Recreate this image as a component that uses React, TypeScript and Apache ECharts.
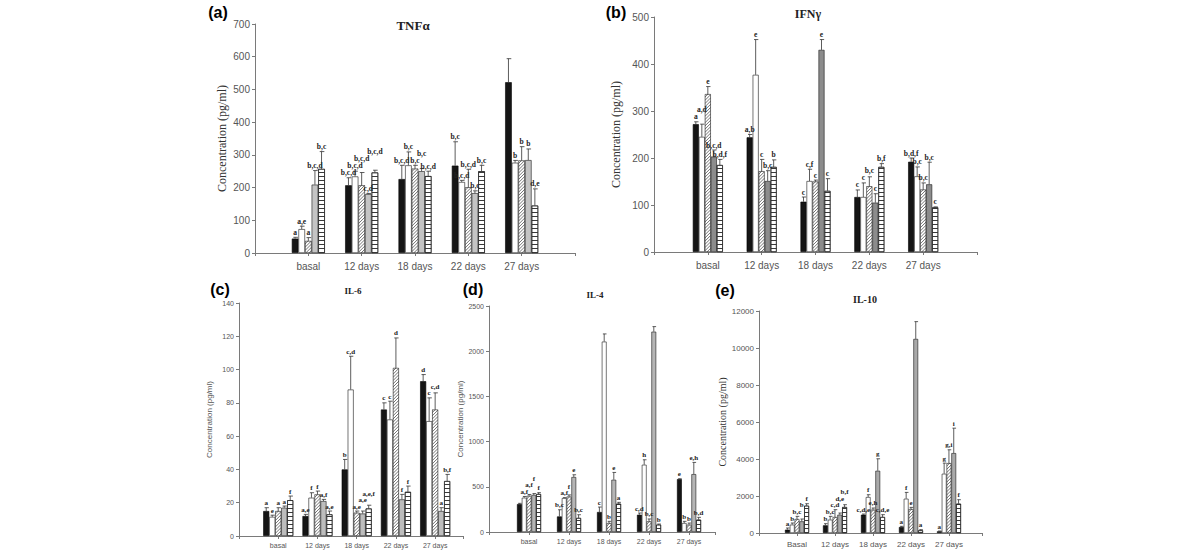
import React, { useEffect, useRef } from 'react';
import * as echarts from 'echarts';

const categories = ['basal', '12 days', '18 days', '22 days', '27 days'];
const categoriesIL10 = ['Basal', '12 days', '18 days', '22 days', '27 days'];

// series order: black, white, diagonal hatch, gray, horizontal hatch
const tnfMean = [
  [44, 207, 226, 267, 522],
  [73, 234, 268, 217, 276],
  [37, 207, 258, 201, 283],
  [209, 180, 250, 183, 284],
  [257, 246, 235, 250, 145],
];
const tnfSd = [
  [4, 23, 42, 73, 72],
  [9, 16, 41, 5, 7],
  [10, 39, 10, 55, 42],
  [43, 2, 8, 7, 34],
  [53, 7, 15, 18, 51],
];
const tnfLabels = [
  ['a', 'b,c,d', 'b,c,d', 'b,c', ''],
  ['a,e', 'b,c,d', 'b,c', 'b,c,d', 'b'],
  ['a', 'b,c,d', 'b,c', 'b,c,d', 'b'],
  ['b,c,d', 'c,d', 'b,c', 'b,c', 'b'],
  ['b,c', 'b,c,d', 'b,c,d', 'b,c', 'd,e'],
];

const ifnMean = [
  [272, 244, 107, 117, 192],
  [245, 377, 151, 117, 161],
  [336, 172, 150, 140, 133],
  [203, 151, 430, 105, 144],
  [185, 181, 130, 181, 95],
];
const ifnSd = [
  [5, 6, 10, 15, 8],
  [27, 75, 25, 30, 20],
  [16, 25, 3, 20, 14],
  [14, 22, 22, 19, 47],
  [12, 15, 26, 7, 1],
];
const ifnLabels = [
  ['a', 'a,b', 'c', 'c', 'b,d,f'],
  ['a,d', 'e', 'c,f', 'c', 'b,c'],
  ['e', 'c', 'c', 'b,c', 'b,c'],
  ['b,c,d', 'b,c', 'e', 'c', 'b,c'],
  ['b,d,f', 'b', 'c', 'b,f', 'c'],
];

const il6Mean = [
  [15, 12, 40, 76, 93],
  [11.5, 23, 88, 70, 69],
  [15, 25, 14, 101, 76],
  [17, 21, 13.5, 22, 15],
  [21.5, 13, 16.5, 26.5, 33],
];
const il6Sd = [
  [2, 1, 6, 4, 4],
  [1, 3, 20, 11, 14],
  [2, 2, 1, 18, 10],
  [1, 1, 1.5, 3, 2],
  [2.5, 2, 2, 3.5, 4],
];
const il6Labels = [
  ['a', 'a,e', 'b', 'c', 'd'],
  ['e', 'f', 'c,d', 'c', 'c'],
  ['a', 'f', 'a,e', 'd', 'c,d'],
  ['a', 'a,f', 'a,e', 'f', 'a'],
  ['f', 'a,e', 'a,e,f', 'f', 'b,f'],
];

const il4Mean = [
  [309, 172, 221, 191, 585],
  [379, 375, 2106, 744, 99],
  [400, 392, 99, 118, 81],
  [410, 608, 578, 2216, 640],
  [420, 155, 313, 81, 136],
];
const il4Sd = [
  [8, 74, 55, 19, 4],
  [14, 5, 85, 55, 19],
  [15, 18, 19, 26, 18],
  [15, 25, 81, 56, 130],
  [15, 36, 15, 7, 26],
];
const il4Labels = [
  ['', 'b,c', 'c', 'c,d', 'e'],
  ['a,f', 'a,f', '', 'h', 'b'],
  ['a,f', 'f', 'b', 'b,c', 'b'],
  ['f', 'e', 'e', '', 'e,h'],
  ['f', 'b,c', 'a', 'b', 'b,d'],
];

const il10Mean = [
  [180, 414, 990, 324, 90],
  [450, 720, 1943, 1853, 3203],
  [756, 864, 1260, 1295, 3778],
  [630, 990, 3365, 10490, 4318],
  [1475, 1403, 864, 144, 1583],
];
const il10Sd = [
  [90, 90, 35, 36, 18],
  [90, 180, 126, 342, 575],
  [144, 396, 90, 90, 720],
  [126, 90, 647, 935, 1349],
  [108, 127, 126, 36, 217],
];
const il10Labels = [
  ['a', 'b', 'c,d,e', 'a', 'a'],
  ['b', 'b,c', 'f', 'f', 'g'],
  ['b,c', 'c,d', 'e,h', 'e', 'g,i'],
  ['b', 'd,e', 'g', '', 'i'],
  ['f', 'b,f', 'c,d,e', 'a', 'f'],
];

const yName = 'Concentration (pg/ml)';

type Panel = {
  letter: string;
  title: string;
  cats: string[];
  mean: number[][];
  sd: number[][];
  labels: string[][];
  yMax: number;
  yInterval: number;
  xMax: number;
  grid: { left: number; top: number; width: number; height: number };
  gray: string;
  barW: number;
  tickFont: number;
  nameFamily: string;
  nameSize: number;
  nameGap: number;
  nameColor: string;
  labelFont: number;
  titleFont: string;
  titlePos: [number, number];
  letterPos: [number, number];
  catFont: number;
  catMargin: number;
};

const panels: Panel[] = [
  {
    letter: '(a)', title: 'TNFα', cats: categories, mean: tnfMean, sd: tnfSd, labels: tnfLabels,
    yMax: 700, yInterval: 100, xMax: 6,
    grid: { left: 255, top: 24, width: 320, height: 229 }, gray: '#c4c4c4', barW: 6.6,
    tickFont: 10, nameFamily: 'Liberation Serif', nameSize: 12, nameGap: 27, nameColor: '#333',
    labelFont: 7.5, titleFont: 'bold 13px "Liberation Serif"', titlePos: [413, 25], letterPos: [218, 12],
    catFont: 10, catMargin: 8,
  },
  {
    letter: '(b)', title: 'IFNγ', cats: categories, mean: ifnMean, sd: ifnSd, labels: ifnLabels,
    yMax: 500, yInterval: 100, xMax: 6,
    grid: { left: 654, top: 17, width: 323, height: 235 }, gray: '#8c8c8c', barW: 6,
    tickFont: 10, nameFamily: 'Liberation Serif', nameSize: 12, nameGap: 32, nameColor: '#333',
    labelFont: 7.5, titleFont: 'bold 12px "Liberation Serif"', titlePos: [808, 14], letterPos: [616, 12],
    catFont: 10, catMargin: 8,
  },
  {
    letter: '(c)', title: 'IL-6', cats: categories, mean: il6Mean, sd: il6Sd, labels: il6Labels,
    yMax: 140, yInterval: 20, xMax: 5.71,
    grid: { left: 239, top: 303, width: 224, height: 233 }, gray: '#bdbdbd', barW: 6,
    tickFont: 7, nameFamily: 'Liberation Sans', nameSize: 8, nameGap: 26, nameColor: '#555',
    labelFont: 7, titleFont: 'bold 9px "Liberation Serif"', titlePos: [353, 291], letterPos: [220, 289],
    catFont: 7, catMargin: 6,
  },
  {
    letter: '(d)', title: 'IL-4', cats: categories, mean: il4Mean, sd: il4Sd, labels: il4Labels,
    yMax: 2500, yInterval: 500, xMax: 5.65,
    grid: { left: 489, top: 306, width: 226, height: 226 }, gray: '#b5b5b5', barW: 4.8,
    tickFont: 7, nameFamily: 'Liberation Sans', nameSize: 8, nameGap: 17, nameColor: '#555',
    labelFont: 7, titleFont: 'bold 9px "Liberation Serif"', titlePos: [595, 295], letterPos: [473, 289],
    catFont: 7, catMargin: 6,
  },
  {
    letter: '(e)', title: 'IL-10', cats: categoriesIL10, mean: il10Mean, sd: il10Sd, labels: il10Labels,
    yMax: 12000, yInterval: 2000, xMax: 5.87,
    grid: { left: 759, top: 311, width: 223, height: 222 }, gray: '#a9a9a9', barW: 4.8,
    tickFont: 8, nameFamily: 'Liberation Serif', nameSize: 10, nameGap: 29, nameColor: '#333',
    labelFont: 7, titleFont: 'bold 10px "Liberation Serif"', titlePos: [865, 299], letterPos: [725, 290],
    catFont: 8, catMargin: 7,
  },
];

function seriesStyle(s: number, gray: string): any {
  const border = { borderColor: '#1a1a1a', borderWidth: 0.6 };
  if (s === 0) return { color: '#151515', borderColor: '#000', borderWidth: 0.6 };
  if (s === 1 || s === 2) return { color: '#ffffff', ...border };
  if (s === 3) return { color: gray, ...border };
  return {
    color: '#ffffff', ...border,
    decal: { symbol: 'rect', symbolSize: 1, dashArrayX: [1, 0], dashArrayY: [1, 2.6], rotation: 0, color: '#3a3a3a' },
  };
}

// Stack letter labels that would collide within a group (as in the original figure).
function layoutLabels(p: Panel, api: any): number[][] {
  const fs = p.labelFont;
  const out: number[][] = [];
  for (let s = 0; s < 5; s++) out.push([0, 0, 0, 0, 0]);
  for (let c = 0; c < 5; c++) {
    const placed: { cx: number; w: number; yb: number }[] = [];
    for (let s = 0; s < 5; s++) {
      const lbl = p.labels[s][c];
      const top = api.coord([c + 1, p.mean[s][c] + p.sd[s][c]]);
      const cx = top[0] + (s - 2) * p.barW;
      let yb = top[1] - 1;
      if (!lbl) { out[s][c] = yb; continue; }
      const w = lbl.length * fs * 0.42;
      let moved = true;
      let guard = 0;
      while (moved && guard < 10) {
        moved = false;
        guard++;
        for (const q of placed) {
          const hOverlap = Math.abs(q.cx - cx) < (q.w + w) / 2 + 0.3;
          const vOverlap = yb > q.yb - fs + 0.5 && yb - fs < q.yb - 0.5;
          if (hOverlap && vOverlap) {
            yb = q.yb - fs + 0.5;
            moved = true;
          }
        }
      }
      placed.push({ cx, w, yb });
      out[s][c] = yb;
    }
  }
  return out;
}

function buildOption(): any {
  const grid: any[] = [];
  const xAxis: any[] = [];
  const yAxis: any[] = [];
  const series: any[] = [];
  const graphic: any[] = [];

  panels.forEach((p, pi) => {
    grid.push({ ...p.grid, containLabel: false });
    xAxis.push({
      type: 'value', gridIndex: pi, min: 0, max: p.xMax, interval: 1,
      splitLine: { show: false },
      axisLine: { show: true, lineStyle: { color: '#7a7a7a', width: 1 } },
      axisTick: { show: true, length: 3, lineStyle: { color: '#7a7a7a' } },
      axisLabel: {
        fontFamily: 'Liberation Sans', fontSize: p.catFont, color: '#555', margin: p.catMargin,
        showMinLabel: true, showMaxLabel: true,
        formatter: (v: number) => (Number.isInteger(v) && v >= 1 && v <= p.cats.length ? p.cats[v - 1] : ''),
      },
    });
    yAxis.push({
      type: 'value', gridIndex: pi, min: 0, max: p.yMax, interval: p.yInterval,
      splitLine: { show: false },
      axisLine: { show: true, lineStyle: { color: '#7a7a7a', width: 1 } },
      axisTick: { show: true, length: 3, lineStyle: { color: '#7a7a7a' } },
      axisLabel: {
        fontFamily: 'Liberation Sans', fontSize: p.tickFont, color: '#555', margin: 5,
        formatter: (v: number) => String(v),
      },
      name: yName, nameLocation: 'middle', nameGap: p.nameGap, nameRotate: 90,
      nameTextStyle: { fontFamily: p.nameFamily, fontSize: p.nameSize, color: p.nameColor },
    });

    for (let s = 0; s < 5; s++) {
      series.push({
        type: 'bar', name: `${p.title}-${s}`, xAxisIndex: pi, yAxisIndex: pi,
        barWidth: p.barW, barGap: '0%',
        itemStyle: seriesStyle(s, p.gray),
        data: p.mean[s].map((v, c) => [c + 1, v]),
      });
    }

    const rows: any[] = [];
    for (let s = 0; s < 5; s++) {
      for (let c = 0; c < 5; c++) {
        rows.push([c + 1, p.mean[s][c], p.sd[s][c], s]);
      }
    }
    const capW = Math.max(2.5, p.barW * 0.55);
    series.push({
      type: 'custom', xAxisIndex: pi, yAxisIndex: pi, z: 5,
      encode: { x: 0, y: 1 },
      data: rows,
      renderItem: (params: any, api: any) => {
        const x = api.value(0);
        const m = api.value(1);
        const sd = api.value(2);
        const s = api.value(3);
        const c = x - 1;
        const base = api.coord([x, m]);
        const zero = api.coord([x, 0]);
        const top = api.coord([x, m + sd]);
        const cx = base[0] + (s - 2) * p.barW;
        const lbl = p.labels[s][c];
        const children: any[] = [];
        if (s === 2) {
          const bx = cx - p.barW / 2;
          const w = p.barW;
          const ty = base[1];
          const by = zero[1];
          const hatch: any[] = [];
          const step = 3.2;
          for (let y = ty; y <= by + w; y += step) {
            hatch.push({
              type: 'line',
              shape: { x1: bx, y1: y, x2: bx + w, y2: y - w },
              style: { stroke: '#3a3a3a', lineWidth: 0.7 },
            });
          }
          children.push({
            type: 'group',
            clipPath: { type: 'rect', shape: { x: bx, y: ty, width: w, height: by - ty } },
            children: hatch,
          });
        }
        children.push(
          { type: 'line', shape: { x1: cx, y1: base[1], x2: cx, y2: top[1] }, style: { stroke: '#333', lineWidth: 0.8 } },
          { type: 'line', shape: { x1: cx - capW / 2, y1: top[1], x2: cx + capW / 2 + 1, y2: top[1] }, style: { stroke: '#333', lineWidth: 0.8 } },
        );
        if (lbl) {
          const ys = layoutLabels(p, api);
          children.push({
            type: 'text',
            style: {
              text: lbl, x: cx, y: ys[s][c], textAlign: 'center', textVerticalAlign: 'bottom',
              font: `bold ${p.labelFont}px "Liberation Serif"`, fill: '#222',
            },
          });
        }
        return { type: 'group', children };
      },
    });

    graphic.push({
      type: 'text', x: p.titlePos[0], y: p.titlePos[1],
      style: { text: p.title, font: p.titleFont, fill: '#222', textAlign: 'center', textVerticalAlign: 'middle' },
    });
    graphic.push({
      type: 'text', x: p.letterPos[0], y: p.letterPos[1],
      style: { text: p.letter, font: 'bold 16px "Liberation Sans"', fill: '#000', textAlign: 'center', textVerticalAlign: 'middle' },
    });
  });

  return { animation: false, backgroundColor: '#ffffff', grid, xAxis, yAxis, series, graphic };
}

export default function App() {
  const ref = useRef<HTMLDivElement>(null);
  useEffect(() => {
    if (!ref.current) return;
    const chart = echarts.init(ref.current, undefined, { renderer: 'svg' });
    chart.setOption(buildOption());
    return () => chart.dispose();
  }, []);
  return (
    <div
      ref={ref}
      style={{ position: 'absolute', left: 0, top: 0, width: 1200, height: 558, background: '#fff' }}
    />
  );
}
